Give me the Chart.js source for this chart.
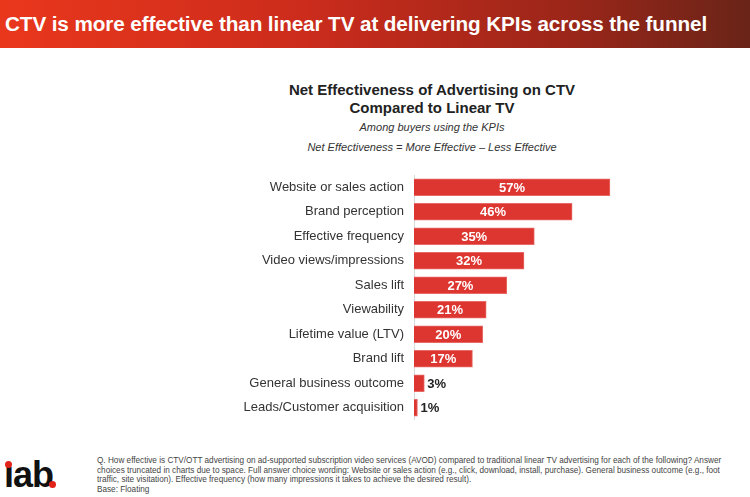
<!DOCTYPE html>
<html>
<head>
<meta charset="utf-8">
<script src="https://cdn.jsdelivr.net/npm/chart.js@4.4.0/dist/chart.umd.min.js"></script>
<style>
body{margin:0;width:750px;height:497px;background:#fff;font-family:"Liberation Sans",Arial,sans-serif;position:relative;overflow:hidden}
#hdr{position:absolute;left:0;top:0;width:750px;height:48px;background:linear-gradient(90deg,#e9371c 0%,#cc2c1c 40%,#9c2619 75%,#6a2418 100%)}
#hdr div{position:absolute;left:5px;top:12px;color:#fff;font-weight:bold;font-size:20.7px;letter-spacing:-0.1px;white-space:nowrap}
.t{position:absolute;left:182px;width:500px;text-align:center;color:#222}
#t1{top:81px;font-weight:bold;font-size:15px;line-height:18px}
#t2{top:121px;font-style:italic;font-size:11px;color:#333}
#t3{top:141px;font-style:italic;font-size:11px;color:#333}
#c{position:absolute;left:0;top:175px}
#logo{position:absolute;left:4px;top:457px;font-weight:bold;font-size:36px;line-height:36px;letter-spacing:-1px;color:#111}
.dot{position:absolute;border-radius:50%;background:#e2231a}
#note{position:absolute;left:97px;top:456px;width:640px;font-size:8.2px;line-height:9.6px;color:#444}
</style>
</head>
<body>
<div id="hdr"><div>CTV is more effective than linear TV at delivering KPIs across the funnel</div></div>
<div class="t" id="t1">Net Effectiveness of Advertising on CTV<br>Compared to Linear TV</div>
<div class="t" id="t2">Among buyers using the KPIs</div>
<div class="t" id="t3">Net Effectiveness = More Effective – Less Effective</div>
<canvas id="c" width="750" height="245"></canvas>
<div id="logo">ıab</div>
<div class="dot" style="left:5px;top:461px;width:7px;height:7px"></div>
<div class="dot" style="left:49px;top:481px;width:7px;height:7px"></div>
<div id="note">Q. How effective is CTV/OTT advertising on ad-supported subscription video services (AVOD) compared to traditional linear TV advertising for each of the following? Answer choices truncated in charts due to space. Full answer choice wording: Website or sales action (e.g., click, download, install, purchase). General business outcome (e.g., foot traffic, site visitation). Effective frequency (how many impressions it takes to achieve the desired result).<br>Base: Floating</div>
<script>
var categorias = ["Website or sales action","Brand perception","Effective frequency","Video views/impressions","Sales lift","Viewability","Lifetime value (LTV)","Brand lift","General business outcome","Leads/Customer acquisition"];
var valores = [57,46,35,32,27,21,20,17,3,1];

// etiquetas de valor dentro/fuera de la barra
const etiquetas = {
  id: 'etiquetas',
  afterDatasetsDraw(chart){
    var ctx = chart.ctx;
    var meta = chart.getDatasetMeta(0);
    ctx.save();
    ctx.font = 'bold 13px "Liberation Sans", Arial, sans-serif';
    ctx.textBaseline = 'middle';
    meta.data.forEach(function(bar, i){
      var txt = valores[i] + '%';
      if (valores[i] < 10) {
        ctx.fillStyle = '#222';
        ctx.textAlign = 'left';
        ctx.fillText(txt, bar.x + 3, bar.y + 1);
      } else {
        ctx.fillStyle = '#fff';
        ctx.textAlign = 'center';
        ctx.fillText(txt, (bar.base + bar.x) / 2, bar.y + 1);
      }
    });
    ctx.restore();
  }
};

var ctx = document.getElementById("c").getContext("2d");
var grafica = new Chart(ctx, {
  type: "bar",
  data: {
    labels: categorias,
    datasets: [{
      data: valores,
      backgroundColor: '#dd3530',
      borderColor: '#e86a66',
      borderWidth: 1,
      borderSkipped: 'left',
      barThickness: 17
    }]
  },
  plugins: [etiquetas],
  options: {
    indexAxis: 'y',
    responsive: false,
    animation: false,
    layout: { padding: { right: 61, top: 0, bottom: 0, left: 0 } },
    plugins: { legend: { display: false }, tooltip: { enabled: false } },
    scales: {
      x: { display: false, min: 0, max: 80 },
      y: {
        afterFit: function(s){ s.width = 414; s.paddingTop = 0; s.paddingBottom = 0; },
        grid: { display: false, drawTicks: false },
        border: { display: true, color: '#d9d9d9', width: 1 },
        ticks: { color: '#333', padding: 10, font: { size: 13, family: '"Liberation Sans", Arial, sans-serif' } }
      }
    }
  }
});
</script>
</body>
</html>
